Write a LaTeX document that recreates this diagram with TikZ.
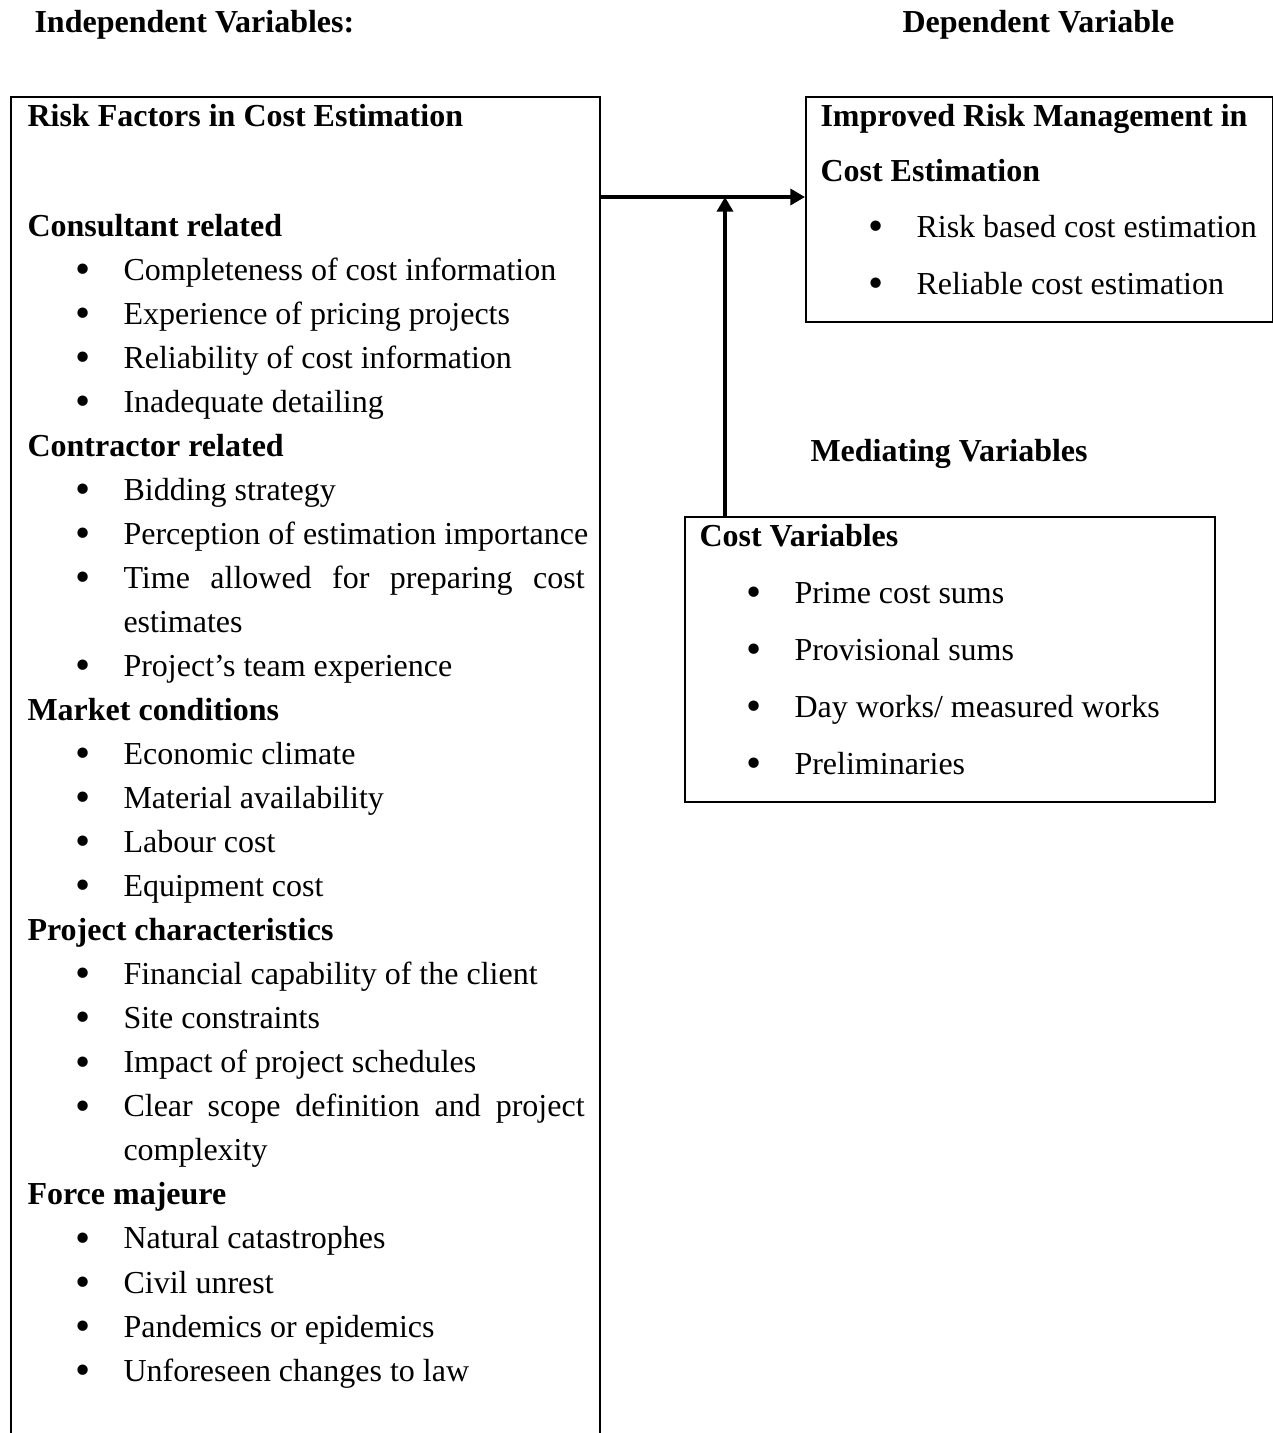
\documentclass[tikz,border=0pt]{standalone}
\usepackage{fontspec}
\setmainfont{Liberation Serif}
\usetikzlibrary{arrows.meta}
\newcommand{\bul}{\makebox[18pt][l]{\raisebox{-1.2pt}{\scalebox{1.35}{\textbullet}}}}

\begin{document}
\begin{tikzpicture}[x=0.375pt, y=-0.375pt,
  box/.style={draw, line width=0.8pt, inner sep=0pt, anchor=north west},
  txt/.style={anchor=base west, inner sep=0pt, font=\fontsize{12pt}{14pt}\selectfont},
  head/.style={txt, font=\fontsize{12pt}{14pt}\selectfont\bfseries},
  arr/.style={-{Triangle[length=5.5pt, width=6pt]}, line width=1.3pt}]
\useasboundingbox (0,0) rectangle (1273,1433);
\clip (0,0) rectangle (1273,1433);

% headings
\node[head] (indep) at (34,32) {Independent Variables:};
\node[head] (dep) at (902,32) {Dependent Variable};
\node[head] (med) at (810,461) {Mediating Variables};

% boxes
\node[box, minimum width=220.9pt, minimum height=510pt] (risk) at (10,96) {};
\node[box, minimum width=175.1pt, minimum height=84.4pt] (improved) at (805,96) {};
\node[box, minimum width=198.8pt, minimum height=106.9pt] (cost) at (684,516) {};

% arrows
\coordinate (meet) at (725,197);
\draw[arr] (risk.east |- meet) -- (improved.west |- meet);
\draw[arr] (cost.north -| meet) -- (meet);

% risk factors
\node[head] (risktitle) at (27,126) {Risk Factors in Cost Estimation};
\node[head] (consult) at (27,236) {Consultant related};
\node[txt] (cons1) at (75,280) {\bul Completeness of cost information};
\node[txt] (cons2) at (75,324.1) {\bul Experience of pricing projects};
\node[txt] (cons3) at (75,368.1) {\bul Reliability of cost information};
\node[txt] (cons4) at (75,412.2) {\bul Inadequate detailing};
\node[head] (contr) at (27,456.2) {Contractor related};
\node[txt] (contr1) at (75,500.2) {\bul Bidding strategy};
\node[txt] (contr2) at (75,544.3) {\bul Perception of estimation importance};
\node[txt] (contr3) at (75,588.3) {\bul\makebox[172.9pt][s]{Time allowed for preparing cost}};
\node[txt] (contr3b) at (123,632.4) {estimates};
\node[txt] (contr4) at (75,676.4) {\bul Project’s team experience};
\node[head] (market) at (27,720.4) {Market conditions};
\node[txt] (mkt1) at (75,764.5) {\bul Economic climate};
\node[txt] (mkt2) at (75,808.5) {\bul Material availability};
\node[txt] (mkt3) at (75,852.6) {\bul Labour cost};
\node[txt] (mkt4) at (75,896.6) {\bul Equipment cost};
\node[head] (proj) at (27,940.6) {Project characteristics};
\node[txt] (proj1) at (75,984.7) {\bul Financial capability of the client};
\node[txt] (proj2) at (75,1028.7) {\bul Site constraints};
\node[txt] (proj3) at (75,1072.8) {\bul Impact of project schedules};
\node[txt] (proj4) at (75,1116.8) {\bul\makebox[172.9pt][s]{Clear scope definition and project}};
\node[txt] (proj4b) at (123,1160.8) {complexity};
\node[head] (force) at (27,1204.9) {Force majeure};
\node[txt] (force1) at (75,1248.9) {\bul Natural catastrophes};
\node[txt] (force2) at (75,1293) {\bul Civil unrest};
\node[txt] (force3) at (75,1337) {\bul Pandemics or epidemics};
\node[txt] (force4) at (75,1381) {\bul Unforeseen changes to law};

% improved risk management
\node[head] (imptitle) at (820,126) {Improved Risk Management in};
\node[head] (imptitleb) at (820,181) {Cost Estimation};
\node[txt] (imp1) at (868,237) {\bul Risk based cost estimation};
\node[txt] (imp2) at (868,294) {\bul Reliable cost estimation};

% cost variables
\node[head] (costtitle) at (699,546) {Cost Variables};
\node[txt] (cost1) at (746,603) {\bul Prime cost sums};
\node[txt] (cost2) at (746,660) {\bul Provisional sums};
\node[txt] (cost3) at (746,717) {\bul Day works/ measured works};
\node[txt] (cost4) at (746,774) {\bul Preliminaries};
\end{tikzpicture}
\end{document}
